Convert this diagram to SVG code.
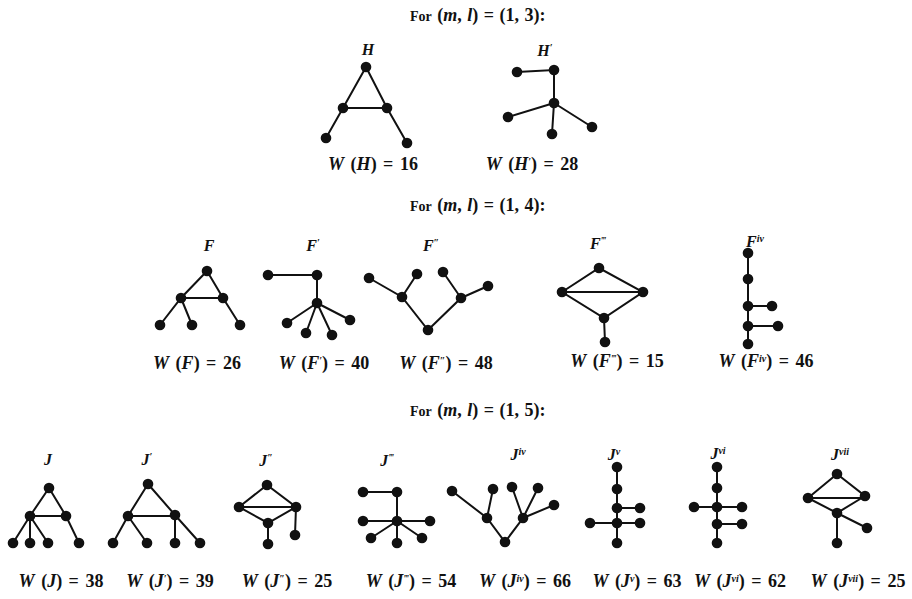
<svg xmlns="http://www.w3.org/2000/svg" width="912" height="599" viewBox="0 0 912 599">
<style>
.e{stroke:#111;stroke-width:2;fill:none;stroke-linecap:round}
.n{fill:#111}
.lab{font-family:"Liberation Serif",serif;font-weight:bold;font-style:italic;font-size:16px;fill:#111;text-anchor:middle}
.w{font-family:"Liberation Serif",serif;font-weight:bold;font-size:18px;fill:#111;text-anchor:middle;word-spacing:2px}
.hd{font-family:"Liberation Serif",serif;font-weight:bold;font-size:18px;fill:#111;word-spacing:1px}
.i{font-style:italic}
.s{font-size:10px;font-style:italic}
</style>
<defs><circle id="d" r="5.3" class="n"/></defs>
<rect width="912" height="599" fill="#fff"/>

<g id="headers">
<text class="hd" x="410" y="21"><tspan font-size="14">For</tspan> (<tspan class="i">m</tspan>, <tspan class="i">l</tspan>) = (1, 3):</text>
<text class="hd" x="410" y="211"><tspan font-size="14">For</tspan> (<tspan class="i">m</tspan>, <tspan class="i">l</tspan>) = (1, 4):</text>
<text class="hd" x="410" y="416"><tspan font-size="14">For</tspan> (<tspan class="i">m</tspan>, <tspan class="i">l</tspan>) = (1, 5):</text>
</g>

<g id="connectors">
<path class="e" d="M366,67L343,108L326,138M366,67L387,108L407,143M343,108H387"/>
<path class="e" d="M517,72L554,70L554,103M554,103L508,117M554,103L552,134M554,103L592,127"/>
<path class="e" d="M207,271L181,298L160,325M207,271L223,298L240,325M181,298H223M181,298L192,325"/>
<path class="e" d="M268,275H317V303M317,303L287,323M317,303L306,333M317,303L332,335M317,303L350,320"/>
<path class="e" d="M369,278L402,297L428,330L461,298L443,272M402,297L417,274M461,298L488,286"/>
<path class="e" d="M562,292L599,268L643,292L604,318L562,292H643M604,318L605,342"/>
<path class="e" d="M748,253V344M748,306H772M748,326H778"/>
<path class="e" d="M49,488L30,516L13,543M49,488L66,516L79,543M30,516H66M30,516L30,543M30,516L48,543"/>
<path class="e" d="M148,484L128,516L113,543M148,484L175,515L200,543M128,516H175M128,516L147,543M175,515V543"/>
<path class="e" d="M239,507L267,485L296,507L268,523L239,507H296M268,523V544M296,507L295,535"/>
<path class="e" d="M363,492H397V521M363,521H430M397,521L371,538M397,521V543M397,521L422,538"/>
<path class="e" d="M452,491L487,518L505,542L523,518L512,487M487,518L493,489M523,518L538,488M523,518L554,505"/>
<path class="e" d="M617,467V543M617,508H640M590,523H640"/>
<path class="e" d="M717,467V543M694,507H742M717,524H742"/>
<path class="e" d="M808,498L837,474L865,496L837,513L808,498H865M837,513V543M837,513L867,528"/>
</g>

<g id="H">
<text class="lab" x="368" y="55">H</text>
<use href="#d" x="366" y="67"/><use href="#d" x="343" y="108"/><use href="#d" x="387" y="108"/><use href="#d" x="326" y="138"/><use href="#d" x="407" y="143"/>
<text class="w" x="373" y="170"><tspan class="i">W</tspan> (<tspan class="i">H</tspan>) = 16</text>
</g>
<g id="H1">
<text class="lab" x="545" y="56">H<tspan class="s" baseline-shift="super">′</tspan></text>
<use href="#d" x="517" y="72"/><use href="#d" x="554" y="70"/><use href="#d" x="554" y="103"/><use href="#d" x="508" y="117"/><use href="#d" x="552" y="134"/><use href="#d" x="592" y="127"/>
<text class="w" x="532" y="170"><tspan class="i">W</tspan> (<tspan class="i">H</tspan><tspan class="s" baseline-shift="super">′</tspan>) = 28</text>
</g>

<g id="F">
<text class="lab" x="209" y="251">F</text>
<use href="#d" x="207" y="271"/><use href="#d" x="181" y="298"/><use href="#d" x="223" y="298"/><use href="#d" x="160" y="325"/><use href="#d" x="192" y="325"/><use href="#d" x="240" y="325"/>
<text class="w" x="197" y="369"><tspan class="i">W</tspan> (<tspan class="i">F</tspan>) = 26</text>
</g>
<g id="F1">
<text class="lab" x="313" y="251">F<tspan class="s" baseline-shift="super">′</tspan></text>
<use href="#d" x="268" y="275"/><use href="#d" x="317" y="275"/><use href="#d" x="317" y="303"/><use href="#d" x="287" y="323"/><use href="#d" x="306" y="333"/><use href="#d" x="332" y="335"/><use href="#d" x="350" y="320"/>
<text class="w" x="324" y="369"><tspan class="i">W</tspan> (<tspan class="i">F</tspan><tspan class="s" baseline-shift="super">′</tspan>) = 40</text>
</g>
<g id="F2">
<text class="lab" x="431" y="251">F<tspan class="s" baseline-shift="super">″</tspan></text>
<use href="#d" x="369" y="278"/><use href="#d" x="402" y="297"/><use href="#d" x="417" y="274"/><use href="#d" x="428" y="330"/><use href="#d" x="461" y="298"/><use href="#d" x="443" y="272"/><use href="#d" x="488" y="286"/>
<text class="w" x="446" y="369"><tspan class="i">W</tspan> (<tspan class="i">F</tspan><tspan class="s" baseline-shift="super">″</tspan>) = 48</text>
</g>
<g id="F3">
<text class="lab" x="598" y="249">F<tspan class="s" baseline-shift="super">‴</tspan></text>
<use href="#d" x="599" y="268"/><use href="#d" x="562" y="292"/><use href="#d" x="643" y="292"/><use href="#d" x="604" y="318"/><use href="#d" x="605" y="342"/>
<text class="w" x="617" y="367"><tspan class="i">W</tspan> (<tspan class="i">F</tspan><tspan class="s" baseline-shift="super">‴</tspan>) = 15</text>
</g>
<g id="F4">
<text class="lab" x="755" y="247">F<tspan class="s" baseline-shift="super">iv</tspan></text>
<use href="#d" x="748" y="253"/><use href="#d" x="748" y="279"/><use href="#d" x="748" y="306"/><use href="#d" x="748" y="326"/><use href="#d" x="748" y="344"/><use href="#d" x="772" y="306"/><use href="#d" x="778" y="326"/>
<text class="w" x="766" y="367"><tspan class="i">W</tspan> (<tspan class="i">F</tspan><tspan class="s" baseline-shift="super">iv</tspan>) = 46</text>
</g>

<g id="J">
<text class="lab" x="48" y="465">J</text>
<use href="#d" x="49" y="488"/><use href="#d" x="30" y="516"/><use href="#d" x="66" y="516"/><use href="#d" x="13" y="543"/><use href="#d" x="30" y="543"/><use href="#d" x="48" y="543"/><use href="#d" x="79" y="543"/>
<text class="w" x="61" y="587"><tspan class="i">W</tspan> (<tspan class="i">J</tspan>) = 38</text>
</g>
<g id="J1">
<text class="lab" x="147" y="465">J<tspan class="s" baseline-shift="super">′</tspan></text>
<use href="#d" x="148" y="484"/><use href="#d" x="128" y="516"/><use href="#d" x="175" y="515"/><use href="#d" x="113" y="543"/><use href="#d" x="147" y="543"/><use href="#d" x="175" y="543"/><use href="#d" x="200" y="543"/>
<text class="w" x="170" y="587"><tspan class="i">W</tspan> (<tspan class="i">J</tspan><tspan class="s" baseline-shift="super">′</tspan>) = 39</text>
</g>
<g id="J2">
<text class="lab" x="266" y="466">J<tspan class="s" baseline-shift="super">″</tspan></text>
<use href="#d" x="267" y="485"/><use href="#d" x="239" y="507"/><use href="#d" x="296" y="507"/><use href="#d" x="268" y="523"/><use href="#d" x="268" y="544"/><use href="#d" x="295" y="535"/>
<text class="w" x="287" y="587"><tspan class="i">W</tspan> (<tspan class="i">J</tspan><tspan class="s" baseline-shift="super">″</tspan>) = 25</text>
</g>
<g id="J3">
<text class="lab" x="387" y="466">J<tspan class="s" baseline-shift="super">‴</tspan></text>
<use href="#d" x="363" y="492"/><use href="#d" x="397" y="492"/><use href="#d" x="397" y="521"/><use href="#d" x="363" y="521"/><use href="#d" x="430" y="521"/><use href="#d" x="371" y="538"/><use href="#d" x="397" y="543"/><use href="#d" x="422" y="538"/>
<text class="w" x="411" y="587"><tspan class="i">W</tspan> (<tspan class="i">J</tspan><tspan class="s" baseline-shift="super">‴</tspan>) = 54</text>
</g>
<g id="J4">
<text class="lab" x="518" y="460">J<tspan class="s" baseline-shift="super">iv</tspan></text>
<use href="#d" x="452" y="491"/><use href="#d" x="487" y="518"/><use href="#d" x="493" y="489"/><use href="#d" x="505" y="542"/><use href="#d" x="523" y="518"/><use href="#d" x="512" y="487"/><use href="#d" x="538" y="488"/><use href="#d" x="554" y="505"/>
<text class="w" x="525" y="587"><tspan class="i">W</tspan> (<tspan class="i">J</tspan><tspan class="s" baseline-shift="super">iv</tspan>) = 66</text>
</g>
<g id="J5">
<text class="lab" x="614" y="460">J<tspan class="s" baseline-shift="super">v</tspan></text>
<use href="#d" x="617" y="467"/><use href="#d" x="617" y="489"/><use href="#d" x="617" y="508"/><use href="#d" x="617" y="523"/><use href="#d" x="617" y="543"/><use href="#d" x="640" y="508"/><use href="#d" x="640" y="523"/><use href="#d" x="590" y="523"/>
<text class="w" x="637" y="587"><tspan class="i">W</tspan> (<tspan class="i">J</tspan><tspan class="s" baseline-shift="super">v</tspan>) = 63</text>
</g>
<g id="J6">
<text class="lab" x="718" y="459">J<tspan class="s" baseline-shift="super">vi</tspan></text>
<use href="#d" x="717" y="467"/><use href="#d" x="717" y="488"/><use href="#d" x="717" y="507"/><use href="#d" x="717" y="524"/><use href="#d" x="717" y="543"/><use href="#d" x="694" y="507"/><use href="#d" x="742" y="507"/><use href="#d" x="742" y="524"/>
<text class="w" x="740" y="587"><tspan class="i">W</tspan> (<tspan class="i">J</tspan><tspan class="s" baseline-shift="super">vi</tspan>) = 62</text>
</g>
<g id="J7">
<text class="lab" x="840" y="460">J<tspan class="s" baseline-shift="super">vii</tspan></text>
<use href="#d" x="837" y="474"/><use href="#d" x="808" y="498"/><use href="#d" x="865" y="496"/><use href="#d" x="837" y="513"/><use href="#d" x="837" y="543"/><use href="#d" x="867" y="528"/>
<text class="w" x="858" y="587"><tspan class="i">W</tspan> (<tspan class="i">J</tspan><tspan class="s" baseline-shift="super">vii</tspan>) = 25</text>
</g>
</svg>
